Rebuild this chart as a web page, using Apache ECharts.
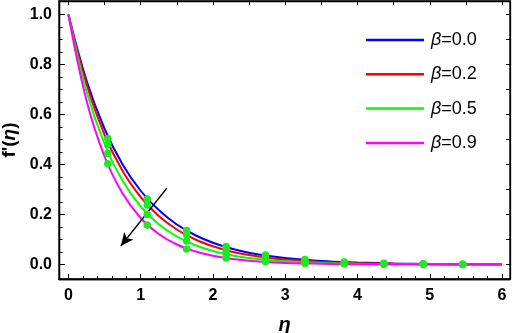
<!DOCTYPE html>
<html><head><meta charset="utf-8">
<script src="https://cdn.jsdelivr.net/npm/echarts@6/dist/echarts.min.js"></script>
<style>html,body{margin:0;padding:0;background:#fff}#c{width:512px;height:333px}</style>
</head><body><div id="c"></div>
<script>
// η grid for the curves
const eta = [0, 0.25, 0.5, 0.75, 1, 1.25, 1.5, 1.75, 2, 2.25, 2.5, 2.75, 3, 3.5, 4, 4.5, 5, 5.5, 6];
const beta00 = [1.000, 0.737, 0.543, 0.400, 0.295, 0.218, 0.160, 0.118, 0.087, 0.064, 0.047, 0.035, 0.026, 0.014, 0.008, 0.004, 0.002, 0.001, 0.001];
const beta02 = [1.000, 0.721, 0.519, 0.374, 0.270, 0.194, 0.140, 0.101, 0.073, 0.052, 0.038, 0.027, 0.020, 0.010, 0.005, 0.003, 0.001, 0.001, 0.000];
const beta05 = [1.000, 0.694, 0.482, 0.335, 0.232, 0.161, 0.112, 0.078, 0.054, 0.037, 0.026, 0.018, 0.013, 0.006, 0.003, 0.001, 0.001, 0.000, 0.000];
const beta09 = [1.000, 0.657, 0.432, 0.284, 0.186, 0.122, 0.080, 0.053, 0.035, 0.023, 0.015, 0.010, 0.006, 0.003, 0.001, 0.001, 0.000, 0.000, 0.000];
// marker points (green dots)
const dotEta = [0.545, 1.091, 1.636, 2.182, 2.727, 3.273, 3.818, 4.364, 4.909, 5.455];
const dot00 = [0.504, 0.262, 0.136, 0.072, 0.038, 0.020, 0.010, 0.005, 0.003, 0.001];
const dot02 = [0.480, 0.238, 0.120, 0.058, 0.029, 0.014, 0.007, 0.003, 0.002, 0.001];
const dot05 = [0.444, 0.200, 0.094, 0.044, 0.019, 0.009, 0.004, 0.002, 0.001, 0.000];
const dot09 = [0.403, 0.158, 0.062, 0.026, 0.011, 0.004, 0.002, 0.001, 0.000, 0.000];
// arrow (start -> end)
const arrowStart = [1.361, 0.305];
const arrowEnd = [0.725, 0.074];
// ticks
const xMajor = [0, 1, 2, 3, 4, 5, 6];
const xMinor = [0.2,0.4,0.6,0.8,1.2,1.4,1.6,1.8,2.2,2.4,2.6,2.8,3.2,3.4,3.6,3.8,4.2,4.4,4.6,4.8,5.2,5.4,5.6,5.8];
const xTop = [0,0.5,1,1.5,2,2.5,3,3.5,4,4.5,5,5.5,6];
const yMajor = [0, 0.2, 0.4, 0.6, 0.8, 1.0];
const yMinor = [0.05,0.1,0.15,0.25,0.3,0.35,0.45,0.5,0.55,0.65,0.7,0.75,0.85,0.9,0.95];
const yRight = [0,0.1,0.2,0.3,0.4,0.5,0.6,0.7,0.8,0.9,1.0];
const names = ['β=0.0', 'β=0.2', 'β=0.5', 'β=0.9'];
const colors = ['#0000ff', '#ff0000', '#00ff00', '#ff00ff'];

const XMIN = -0.13, XMAX = 6.11, YMIN = -0.058, YMAX = 1.054;
function lineSt() { return {show: true, onZero: false, lineStyle: {color: '#000', width: 1.3}}; }
function xa(grid, pos, ticks, len, labels, extra) {
  return Object.assign({type: 'value', gridIndex: grid, min: XMIN, max: XMAX, position: pos,
    axisLine: lineSt(), splitLine: {show: false},
    axisTick: {show: true, inside: true, length: len, customValues: ticks, lineStyle: {color: '#000', width: 1}},
    axisLabel: labels ? {show: true, customValues: xMajor, color: '#000', fontFamily: 'Liberation Sans', fontWeight: 'bold', fontSize: 16, margin: 9} : {show: false}
  }, extra || {});
}
function ya(grid, pos, ticks, len, labels, extra) {
  return Object.assign({type: 'value', gridIndex: grid, min: YMIN, max: YMAX, position: pos,
    axisLine: lineSt(), splitLine: {show: false},
    axisTick: {show: true, inside: true, length: len, customValues: ticks, lineStyle: {color: '#000', width: 1}},
    axisLabel: labels ? {show: true, customValues: yMajor, formatter: v => v.toFixed(1), color: '#000', fontFamily: 'Liberation Sans', fontWeight: 'bold', fontSize: 16, margin: 7} : {show: false}
  }, extra || {});
}

const curves = [beta00, beta02, beta05, beta09];
const dots = [dot00, dot02, dot05, dot09];
const series = [];
curves.forEach((c, i) => {
  series.push({name: names[i], type: 'line', xAxisIndex: 0, yAxisIndex: 0, data: eta.map((e, j) => [e, c[j]]), smooth: 0.4,
    symbol: 'none', lineStyle: {color: colors[i], width: 2}, itemStyle: {color: colors[i]}, z: 2 + i * 0.1});
});
const dotData = [];
dots.forEach(d => dotEta.forEach((e, j) => dotData.push([e, d[j]])));
series.push({name: 'dots', type: 'scatter', xAxisIndex: 0, yAxisIndex: 0, data: dotData, symbolSize: 7.5, itemStyle: {color: '#22e622', opacity: 1}, z: 5});
series.push({name: 'arrow', type: 'line', xAxisIndex: 0, yAxisIndex: 0, data: [], markLine: {silent: true, symbol: ['none', 'arrow'], symbolSize: [9, 13],
  lineStyle: {color: '#000', width: 1.3, type: 'solid'}, label: {show: false},
  data: [[{coord: arrowStart}, {coord: arrowEnd}]]}});

const g = {left: 59, right: 2, top: 1, bottom: 54, containLabel: false, outerBoundsMode: 'none'};
const chart = echarts.init(document.getElementById('c'), null, {renderer: 'canvas'});
chart.setOption({
  animation: false,
  backgroundColor: '#fff',
  grid: [Object.assign({}, g), Object.assign({}, g), Object.assign({show: true, borderColor: '#000', borderWidth: 1.3, backgroundColor: 'transparent'}, g)],
  xAxis: [
    xa(0, 'bottom', xMajor, 5, true, {name: 'η', nameLocation: 'middle', nameGap: 36,
      nameTextStyle: {fontFamily: 'Liberation Sans', fontWeight: 'bold', fontStyle: 'italic', fontSize: 20, color: '#000'}}),
    xa(1, 'bottom', xMinor, 3, false),
    xa(1, 'top', xTop, 4, false)
  ],
  yAxis: [
    ya(0, 'left', yMajor, 6, true, {name: "{a|f'(}{b|η}{a|)}", nameLocation: 'middle', nameGap: 34, nameRotate: 90,
      nameTextStyle: {color: '#000', rich: {
        a: {fontFamily: 'Liberation Sans', fontWeight: 'bold', fontSize: 19, color: '#000'},
        b: {fontFamily: 'Liberation Sans', fontWeight: 'bold', fontStyle: 'italic', fontSize: 19, color: '#000'}}}}),
    ya(1, 'left', yMinor, 3.5, false),
    ya(1, 'right', yRight, 4, false)
  ],
  legend: {orient: 'vertical', left: 361, top: 25, itemWidth: 58, itemHeight: 2.5, itemGap: 14.3, icon: 'rect',
    data: names, selectedMode: false,
    formatter: n => '{i|β}{t|' + n.slice(1) + '}',
    textStyle: {padding: [0, 0, 0, 2], lineHeight: 20, rich: {
      i: {fontFamily: 'Liberation Sans', fontStyle: 'italic', fontSize: 18, color: '#000', lineHeight: 20},
      t: {fontFamily: 'Liberation Sans', fontSize: 18, color: '#000', lineHeight: 20}}}},
  series: series
});
</script></body></html>
